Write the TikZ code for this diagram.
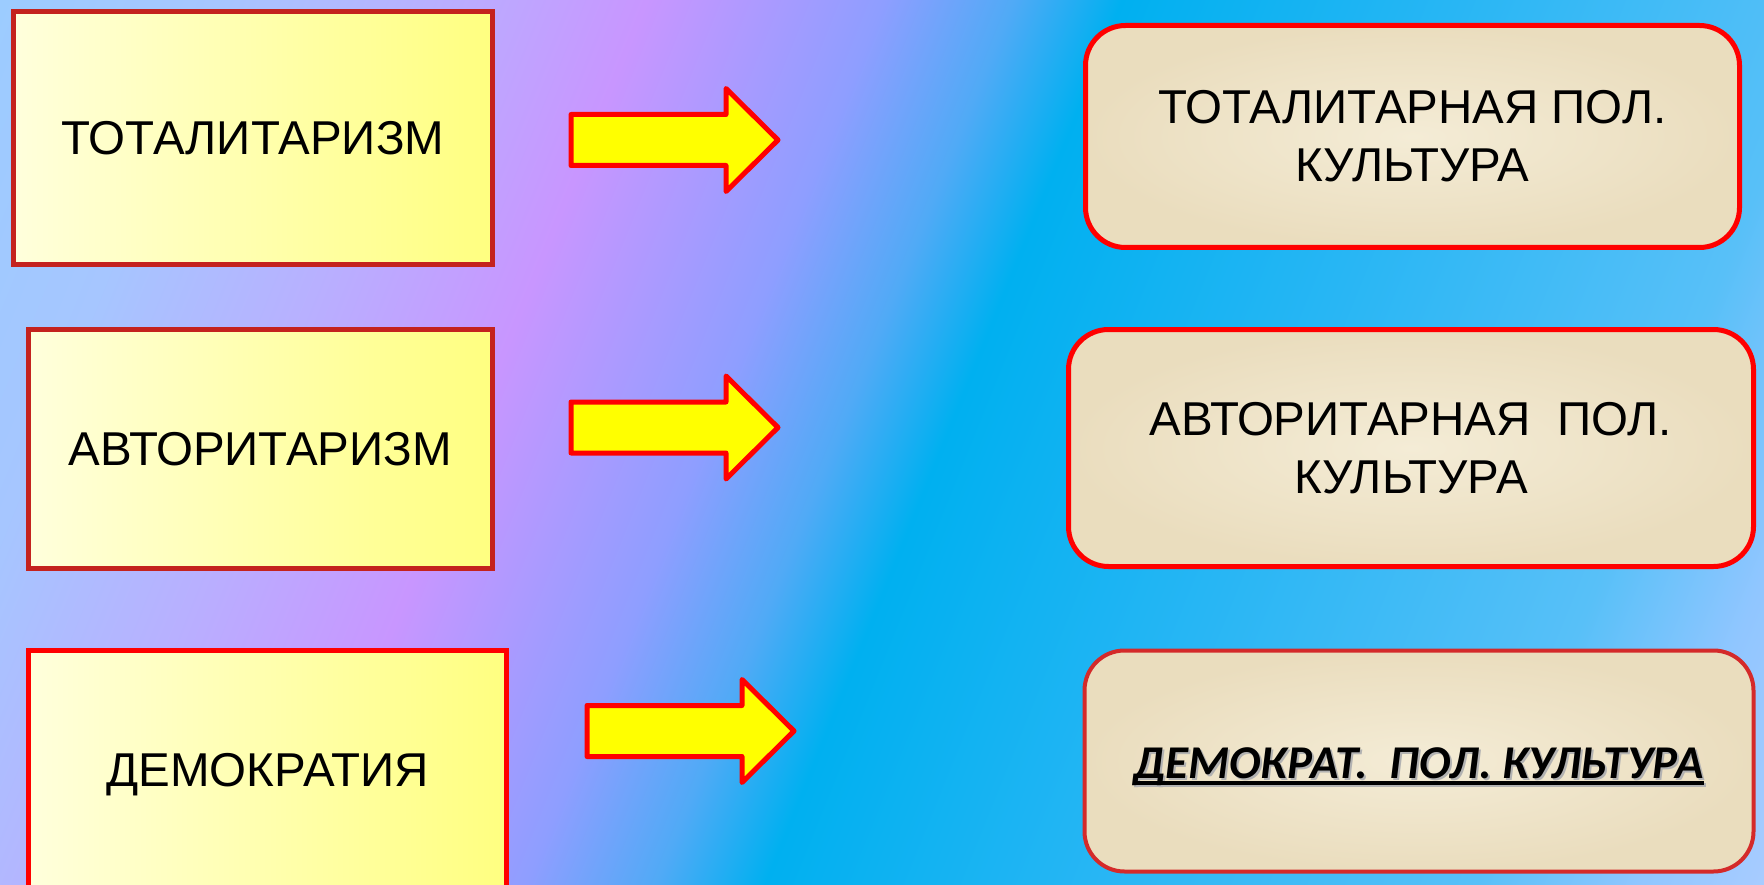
\documentclass[tikz,border=0pt]{standalone}
\usepackage{fontspec}
\setmainfont{Liberation Sans}
\newfontfamily\carlito{Carlito}
\usetikzlibrary{calc}
\definecolor{g0}{HTML}{9CCCFF}
\definecolor{g1}{HTML}{A6C6FF}
\definecolor{g2}{HTML}{B8B0FF}
\definecolor{g3}{HTML}{C896FF}
\definecolor{g4}{HTML}{8E9EFF}
\definecolor{g5}{HTML}{50AAF6}
\definecolor{g6}{HTML}{00B0F0}
\definecolor{g7}{HTML}{28B6F4}
\definecolor{g8}{HTML}{58C0F8}
\definecolor{g9}{HTML}{90C6FF}
\definecolor{g10}{HTML}{A8CCFF}
\definecolor{darkred}{HTML}{C4221E}
\definecolor{r3red}{HTML}{D42A2A}
\definecolor{ylight}{HTML}{FFFFDC}
\definecolor{ydark}{HTML}{FFFF80}
\definecolor{parchA}{HTML}{F4ECD6}
\definecolor{parchB}{HTML}{EADDBE}
\definecolor{arrowyellow}{HTML}{FFFF00}
\definecolor{brightred}{HTML}{FF0000}
\pgfdeclarehorizontalshading{bgshade}{100bp}{color(0bp)=(g0); color(25bp)=(g0); color(30.08bp)=(g1); color(35.16bp)=(g2); color(40.24bp)=(g3); color(45.83bp)=(g4); color(48.88bp)=(g5); color(51.42bp)=(g6); color(59.3bp)=(g7); color(68.19bp)=(g8); color(72bp)=(g9); color(75bp)=(g10); color(100bp)=(g10)}
\tikzset{
  leftbox/.style={rectangle, draw=darkred, line width=5pt, left color=ylight, right color=ydark,
    text depth=0pt, inner sep=0pt, font=\fontsize{47.5}{58}\selectfont},
  rightbox/.style={rectangle, rounded corners=40pt, draw=brightred, line width=5pt,
    inner color=parchA, outer color=parchB, align=center, inner sep=0pt,
    font=\fontsize{47.5}{58}\selectfont},
  demotext/.style={inner sep=0pt, anchor=base, font=\carlito\bfseries\itshape\fontsize{47}{56}\selectfont},
  blockarrow/.style={fill=arrowyellow, draw=brightred, line width=5pt, line join=round},
  bigarrow/.pic={\filldraw[blockarrow] (0,-25.5) -- (155,-25.5) -- (155,-51.5) -- (207,0)
     -- (155,51.5) -- (155,25.5) -- (0,25.5) -- cycle;}
}
\begin{document}
\begin{tikzpicture}[x=1pt,y=-1pt]
\useasboundingbox (0,0) rectangle (1764,885);
% background
\begin{scope}
  \clip (0,0) rectangle (1764,885);
  \begin{scope}[transform canvas={rotate=-22}]
    \shade[shading=bgshade] (0,-700) rectangle (1968,830);
  \end{scope}
\end{scope}
% left boxes
\node[leftbox, minimum width=479pt, minimum height=253pt] (L1) at (253,138) {ТОТАЛИТАРИЗМ};
\node[leftbox, minimum width=464pt, minimum height=239pt] (L2) at (260.5,449) {АВТОРИТАРИЗМ};
\node[leftbox, draw=brightred, minimum width=478pt, minimum height=239pt] (L3) at (267.5,770) {ДЕМОКРАТИЯ};
% right boxes
\node[rightbox, minimum width=654pt, minimum height=222pt] (R1) at (1412.5,136.5) {ТОТАЛИТАРНАЯ ПОЛ.\\КУЛЬТУРА};
\node[rightbox, minimum width=685pt, minimum height=237pt] (R2) at (1411,448) {АВТОРИТАРНАЯ\ \ ПОЛ.\\КУЛЬТУРА};
\node[rightbox, draw=r3red, line width=4pt, minimum width=669pt, minimum height=221pt] (R3) at (1419,761) {};
\node[demotext, text=black!30] (T3s) at ($(R3.center)+(2,19)$) {ДЕМОКРАТ.\ \ ПОЛ. КУЛЬТУРА};
\draw[line width=4pt, black!30] ($(T3s.base west)+(2,5)$) -- ($(T3s.base east)+(0,5)$);
\node[demotext] (T3) at ($(R3.center)+(0,17)$) {ДЕМОКРАТ.\ \ ПОЛ. КУЛЬТУРА};
\draw[line width=4pt] ($(T3.base west)+(2,5)$) -- ($(T3.base east)+(0,5)$);
% arrows
\coordinate (a1) at (571,140);
\coordinate (a2) at (571,427.5);
\coordinate (a3) at (587,731);
\pic at (a1) {bigarrow};
\pic at (a2) {bigarrow};
\pic at (a3) {bigarrow};
\end{tikzpicture}
\end{document}
